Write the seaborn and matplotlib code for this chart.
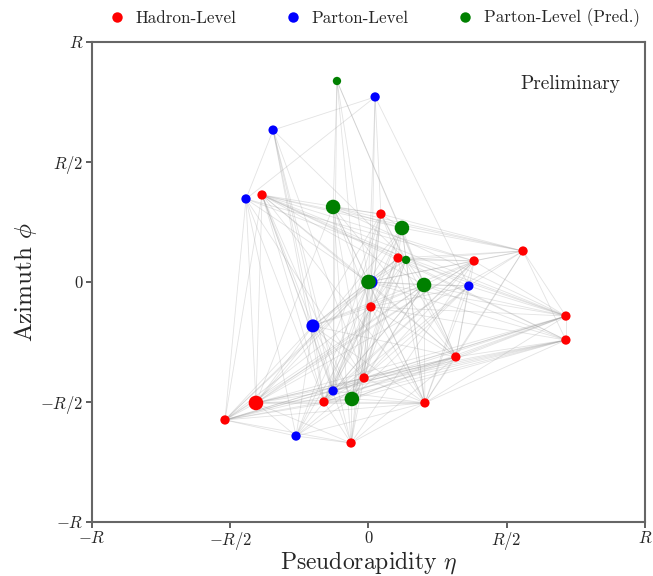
import numpy as np
import pandas as pd
import matplotlib
matplotlib.use("Agg")
import matplotlib.pyplot as plt
from matplotlib.collections import LineCollection
from matplotlib.lines import Line2D
import seaborn as sns

# --- particles (eta, phi in units of the jet radius R) ---
hadron_eta = [-0.385, 0.045, 0.107, 0.382, 0.559, 0.009, 0.714, 0.714,
              0.316, 0.204, -0.016, -0.161, -0.407, -0.519, -0.063]
hadron_phi = [0.3625, 0.283, 0.100, 0.0875, 0.129, -0.104, -0.142, -0.242,
              -0.3125, -0.504, -0.400, -0.500, -0.504, -0.575, -0.671]
hadron_pt = [1, 1, 1, 1, 1, 1, 1, 1, 1, 1, 1, 1, 2.5, 1, 1]

parton_eta = [-0.345, 0.024, -0.443, 0.363, -0.201, -0.128, -0.262, 0.009]
parton_phi = [0.633, 0.771, 0.346, -0.017, -0.183, -0.454, -0.642, 0.0]
parton_pt = [1, 1, 1, 1, 2.0, 1, 1, 2.0]

pred_eta = [-0.114, -0.128, 0.121, 0.136, 0.0, 0.201, -0.060]
pred_phi = [0.8375, 0.3125, 0.225, 0.092, 0.0, -0.0125, -0.4875]
pred_pt = [0.8, 2.5, 2.5, 0.8, 2.5, 2.5, 2.5]

levels = ["Hadron-Level", "Parton-Level", "Parton-Level (Pred.)"]
colors = ["red", "blue", "green"]

# graph connectivity between particles (H = hadron, P = parton, G = predicted)
adjacency = {
    "G0": ["G1", "G4", "G5", "H8", "H10", "P5"],
    "P1": ["P0", "P2", "P3", "G4", "H5", "H1"],
    "P0": ["P2", "G3", "H11", "P5", "H10", "H14", "P4"],
    "P2": ["H13", "P6", "H12", "H11", "G4", "H3", "H6", "H10"],
    "H0": ["H3", "H4", "H6", "H7", "G2", "G5", "H2", "H1", "P4", "H12",
           "H11", "H14", "G6", "H9", "P5", "H8", "G4", "P3"],
    "H13": ["H12", "P6", "H14", "H11", "G6", "H10", "H8", "H9", "H6", "H7",
            "G4", "H5", "P4", "H2", "P5", "G5", "H3", "H0"],
    "H12": ["G6", "H9", "H6", "H7", "H8", "H10", "H11", "P5", "G4", "G5",
            "G2", "H3", "H4", "H14", "P4", "G1"],
    "H6": ["H4", "H7", "H3", "G5", "P3", "G4", "H2", "H5", "H10", "H11",
           "H8", "H9", "G6", "G1", "P5"],
    "H7": ["H4", "H8", "H9", "H10", "H11", "G4", "G5", "H5", "P5", "G6", "H2"],
    "H4": ["H3", "G2", "G3", "H2", "G4", "H1", "G1", "H8", "H9", "P3"],
    "H3": ["H2", "G3", "G4", "H8", "H9", "H10", "H11", "P5", "G5", "P4"],
    "P6": ["H14", "H12", "G6", "H11", "H10", "G4", "P4", "H5", "H9", "H1"],
    "H14": ["H10", "G6", "H11", "G4", "H5", "H8", "H9", "H3", "G1"],
    "G1": ["H1", "G2", "G4", "H8", "H9", "P5", "H6", "H5", "H10"],
    "G2": ["H1", "G3", "G4", "H2", "G5", "H9", "H10", "H11", "H5"],
    "H1": ["G4", "H2", "G3", "H5", "H10", "H11", "P4", "H8", "G6"],
    "H2": ["G3", "G4", "H5", "H10", "P4", "H11", "G6", "H8", "H9"],
    "G3": ["G4", "G5", "H5", "H10", "P4", "H11", "G6", "H9"],
    "G4": ["G5", "H5", "H10", "H11", "P4", "P5", "H8", "H9", "G6", "P3"],
    "G5": ["H5", "H8", "H9", "H10", "H11", "P5", "G6", "P3", "P4"],
    "P3": ["H8", "H9", "H5", "H10", "G6", "H11"],
    "P4": ["H10", "H11", "P5", "G6", "H5", "H9", "H8"],
    "H5": ["H10", "H11", "P5", "G6", "H8", "H9"],
    "H8": ["H9", "H10", "H11", "P5", "G6"],
    "H9": ["H10", "H11", "P5", "G6"],
    "H10": ["H11", "P5", "G6"],
    "H11": ["P5", "G6"],
}

# --- assemble tidy table ---
frames = []
for prefix, level, eta, phi, pt in [
    ("H", levels[0], hadron_eta, hadron_phi, hadron_pt),
    ("P", levels[1], parton_eta, parton_phi, parton_pt),
    ("G", levels[2], pred_eta, pred_phi, pred_pt),
]:
    frames.append(pd.DataFrame({
        "node": [f"{prefix}{i}" for i in range(len(eta))],
        "level": level, "eta": eta, "phi": phi, "pt": pt,
    }))
df = pd.concat(frames, ignore_index=True)
pos = df.set_index("node")[["eta", "phi"]]

edges = set()
for a, nbrs in adjacency.items():
    for b in nbrs:
        if a != b:
            edges.add(tuple(sorted((a, b))))
segments = [[tuple(pos.loc[a]), tuple(pos.loc[b])] for a, b in sorted(edges)]

# --- style ---
sns.set_theme(style="white")
plt.rcParams["font.family"] = "serif"
plt.rcParams["font.serif"] = ["cmr10", "DejaVu Serif"]
plt.rcParams["mathtext.fontset"] = "cm"
plt.rcParams["axes.formatter.use_mathtext"] = True

fig = plt.figure(figsize=(6.53, 5.76), dpi=100)
ax = fig.add_axes([0.1409, 0.0938, 0.8468, 0.8333])

ax.add_collection(LineCollection(segments, colors="#9a9a9a", linewidths=0.6,
                                 alpha=0.28, zorder=1))

sns.scatterplot(data=df, x="eta", y="phi", hue="level", hue_order=levels,
                palette=colors, size="pt", sizes=(36, 110), size_norm=(0.8, 2.5),
                linewidth=0, legend=False, ax=ax, zorder=3)

ax.set_xlim(-1, 1)
ax.set_ylim(-1, 1)
ticks = [-1, -0.5, 0, 0.5, 1]
tick_labels = [r"$-R$", r"$-R/2$", r"$0$", r"$R/2$", r"$R$"]
ax.set_xticks(ticks)
ax.set_xticklabels(tick_labels)
ax.set_yticks(ticks)
ax.set_yticklabels(tick_labels)
ax.tick_params(axis="both", direction="out", length=4, width=1.2,
               color="#444444", labelsize=12, pad=2, bottom=True, left=True)
for sp in ax.spines.values():
    sp.set_color("#666666")
    sp.set_linewidth(1.5)

ax.set_xlabel(r"Pseudorapidity $\eta$", fontsize=17, labelpad=-2)
ax.set_ylabel(r"Azimuth $\phi$", fontsize=18, labelpad=1)

ax.text(0.955, 0.9125, "Preliminary", transform=ax.transAxes, ha="right",
        va="center", fontsize=14)

handles = [Line2D([], [], marker="o", linestyle="", markersize=7.5,
                  markerfacecolor=c, markeredgewidth=0) for c in colors]
ax.legend(handles, levels, loc="lower center", bbox_to_anchor=(0.51, 1.0),
          ncol=3, frameon=False, fontsize=12.3, handlelength=1.0,
          handletextpad=0.6, columnspacing=2.8, borderaxespad=0.45)

fig.savefig("out.png", dpi=100)
